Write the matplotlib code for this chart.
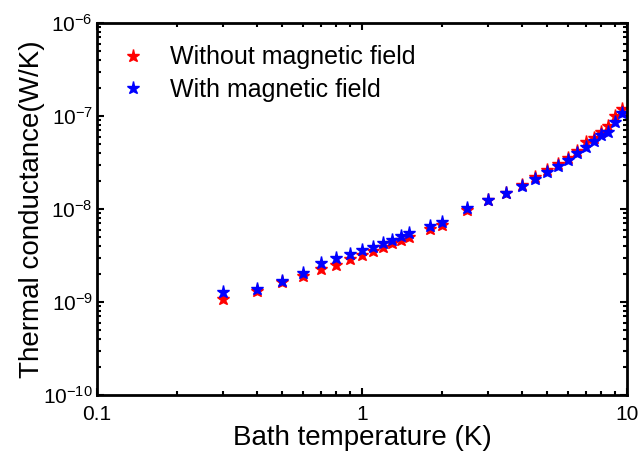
import math
import matplotlib
matplotlib.use("Agg")
import matplotlib.pyplot as plt
from matplotlib.ticker import LogLocator, FixedLocator, NullFormatter, FuncFormatter

plt.rcParams['font.family'] = ['Liberation Sans', 'DejaVu Sans']
plt.rcParams['mathtext.fontset'] = 'custom'
plt.rcParams['mathtext.rm'] = 'Liberation Sans'
plt.rcParams['mathtext.it'] = 'Liberation Sans'

temperature = [0.3, 0.4, 0.5, 0.6, 0.7, 0.8, 0.9, 1.0, 1.1, 1.2, 1.3, 1.4, 1.5,
               1.8, 2.0, 2.5, 3.0, 3.5, 4.0, 4.5, 5.0, 5.5, 6.0, 6.5, 7.0, 7.5,
               8.0, 8.5, 9.0, 9.6]
without_field = [1.08e-9, 1.31e-9, 1.64e-9, 1.90e-9, 2.26e-9, 2.50e-9, 2.90e-9,
                 3.20e-9, 3.53e-9, 3.90e-9, 4.30e-9, 4.70e-9, 5.00e-9,
                 6.10e-9, 6.70e-9, 9.8e-9, 1.24e-8, 1.49e-8, 1.81e-8, 2.21e-8,
                 2.63e-8, 3.05e-8, 3.53e-8, 4.20e-8, 5.25e-8, 5.80e-8,
                 6.70e-8, 7.80e-8, 1.00e-7, 1.19e-7]
with_field = [1.28e-9, 1.38e-9, 1.68e-9, 2.05e-9, 2.63e-9, 3.00e-9, 3.30e-9,
              3.63e-9, 3.90e-9, 4.30e-9, 4.65e-9, 5.10e-9, 5.50e-9,
              6.56e-9, 7.20e-9, 1.02e-8, 1.26e-8, 1.49e-8, 1.77e-8, 2.10e-8,
              2.51e-8, 2.90e-8, 3.36e-8, 4.00e-8, 4.65e-8, 5.40e-8,
              6.25e-8, 6.70e-8, 8.60e-8, 1.08e-7]
labels = ["Without magnetic field", "With magnetic field"]
colors = ["#ff0000", "#0000ff"]
x_ticks = [0.1, 1, 10]
x_tick_labels = ["0.1", "1", "10"]
y_ticks = [1e-10, 1e-9, 1e-8, 1e-7, 1e-6]

fig = plt.figure(figsize=(6.4, 4.59), dpi=100)
ax = fig.add_axes([0.1516, 0.1394, 0.8281, 0.8105])

ax.plot(temperature, without_field, ls='none', marker='*', ms=9.5,
        color=colors[0], label=labels[0])
ax.plot(temperature, with_field, ls='none', marker='*', ms=9.5,
        color=colors[1], label=labels[1])

ax.set_xscale('log')
ax.set_yscale('log')
ax.set_xlim(0.1, 10)
ax.set_ylim(1e-10, 1e-6)

ax.xaxis.set_major_locator(FixedLocator(x_ticks))
ax.set_xticklabels(x_tick_labels)
ax.xaxis.set_minor_locator(LogLocator(base=10, subs=range(2, 10)))
ax.xaxis.set_minor_formatter(NullFormatter())

ax.yaxis.set_major_locator(FixedLocator(y_ticks))
ax.yaxis.set_major_formatter(FuncFormatter(lambda v, p: r"$10^{%d}$" % round(math.log10(v))))
ax.yaxis.set_minor_locator(LogLocator(base=10, subs=range(2, 10)))
ax.yaxis.set_minor_formatter(NullFormatter())

ax.tick_params(which='both', direction='in', top=True, right=True, width=1.5)
ax.tick_params(which='major', length=5, labelsize=15)
ax.tick_params(axis='x', which='major', pad=7)
ax.tick_params(axis='y', which='major', pad=3)
ax.tick_params(which='minor', length=3)
for s in ax.spines.values():
    s.set_linewidth(2)

ax.set_xlabel("Bath temperature (K)", fontsize=20, labelpad=1)
ax.set_ylabel("Thermal conductance(W/K)", fontsize=20, labelpad=-1.5)

leg = ax.legend(loc='upper left', bbox_to_anchor=(0.044, 0.94), frameon=False,
                fontsize=18, markerscale=1.0, handletextpad=1.0,
                labelspacing=0.35, handlelength=1.0, borderpad=0,
                borderaxespad=0)

fig.savefig("out.png", dpi=100)
